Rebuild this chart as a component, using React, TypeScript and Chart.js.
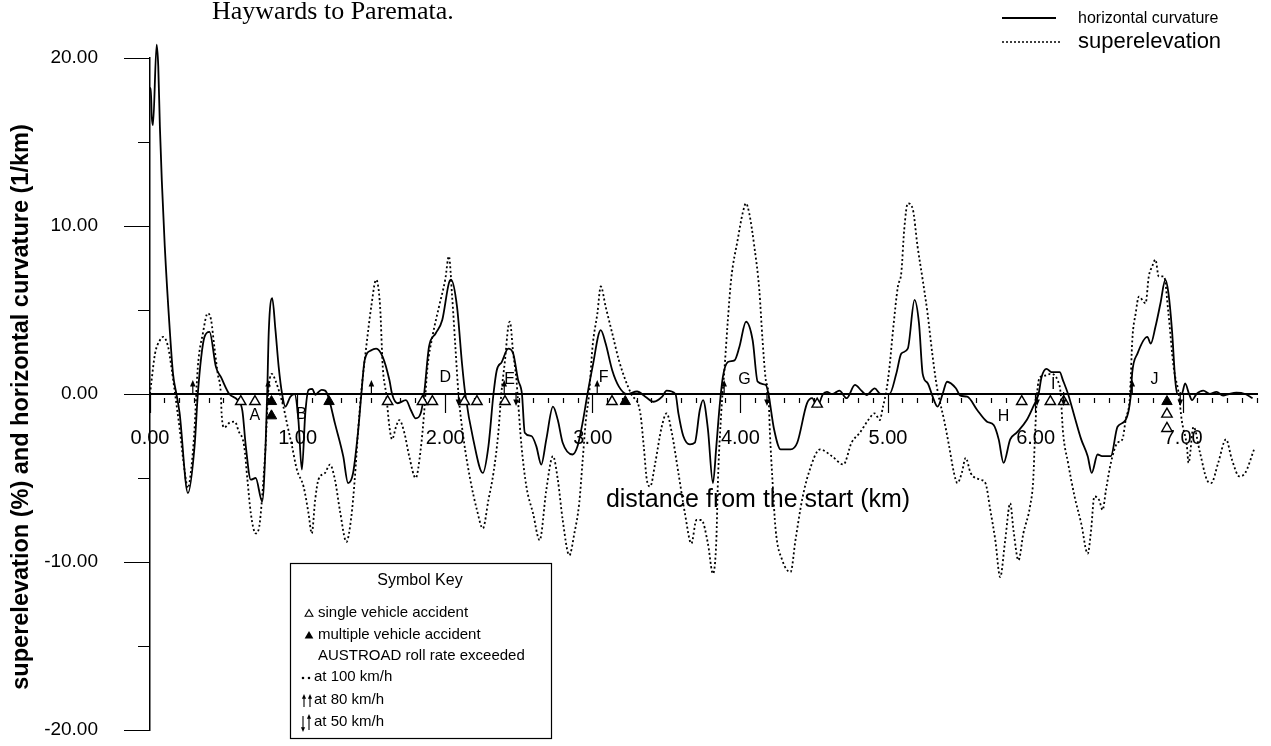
import React, { useEffect, useRef } from 'react';
import { Chart, registerables } from 'chart.js';

Chart.register(...registerables);

// Horizontal curvature (1/km) along the route, distance in km
const curvKm = [
  0.0, 0.005, 0.012, 0.02, 0.045, 0.056, 0.067, 0.08, 0.1, 0.134, 0.156, 0.179, 0.2, 0.257, 0.302, 0.324,
  0.347, 0.369, 0.403, 0.447, 0.481, 0.537, 0.593, 0.626, 0.649, 0.683, 0.716, 0.76, 0.783, 0.794, 0.805,
  0.828, 0.85, 0.872, 0.895, 0.917, 0.951, 0.98, 1.005, 1.029, 1.052, 1.074, 1.1, 1.12, 1.14, 1.163,
  1.186, 1.208, 1.253, 1.309, 1.342, 1.376, 1.409, 1.432, 1.454, 1.499, 1.532, 1.577, 1.622, 1.64, 1.678,
  1.734, 1.767, 1.8, 1.834, 1.857, 1.89, 1.935, 1.98, 2.025, 2.04, 2.08, 2.114, 2.136, 2.19, 2.255, 2.293,
  2.327, 2.349, 2.383, 2.427, 2.461, 2.494, 2.52, 2.539, 2.584, 2.617, 2.651, 2.685, 2.73, 2.763, 2.796,
  2.863, 2.897, 2.93, 2.964, 2.998, 3.054, 3.087, 3.132, 3.177, 3.23, 3.3, 3.356, 3.412, 3.47, 3.5, 3.56,
  3.58, 3.613, 3.658, 3.691, 3.725, 3.747, 3.78, 3.814, 3.837, 3.859, 3.881, 3.915, 3.96, 3.993, 4.038,
  4.083, 4.117, 4.172, 4.19, 4.228, 4.273, 4.34, 4.385, 4.451, 4.486, 4.52, 4.56, 4.586, 4.62, 4.653,
  4.67, 4.72, 4.776, 4.82, 4.855, 4.91, 4.95, 5.01, 5.056, 5.09, 5.134, 5.18, 5.21, 5.235, 5.27, 5.3,
  5.336, 5.37, 5.4, 5.46, 5.49, 5.537, 5.604, 5.671, 5.716, 5.75, 5.783, 5.828, 5.872, 5.94, 5.984, 6.02,
  6.04, 6.074, 6.107, 6.163, 6.185, 6.22, 6.264, 6.309, 6.353, 6.38, 6.42, 6.45, 6.51, 6.555, 6.61, 6.644,
  6.655, 6.69, 6.757, 6.78, 6.812, 6.846, 6.879, 6.9, 6.924, 6.946, 6.96, 6.99, 7.013, 7.04, 7.06, 7.09,
  7.136, 7.18, 7.226, 7.27, 7.31, 7.36, 7.42, 7.47,
];
const curvVal = [
  18.2, 18.2, 16.5, 16.0, 20.8, 19.5, 15.9, 12.7, 8.8, 3.8, 1.2, 0, -1.1, -5.9, -3.1, 0,
  2.2, 3.4, 3.7, 1.6, 1.0, 0, -0.36, -1.0, -3.1, -5.1, -5.0, -6.4, -3.1, 0, 3.8,
  5.7, 3.8, 1.6, 0, -0.75, -0.16, 0, -1.5, -4.5, -1.15, 0.24, 0.3, -0.05, 0.1, 0.24,
  0.2, -0.16, -1.75, -3.7, -5.3, -4.7, -2.3, 0, 2.0, 2.6, 2.7, 2.2, 0.83, 0, -0.55,
  -0.36, -0.95, -1.45, -1.15, 0, 2.8, 3.6, 4.4, 6.6, 6.8, 5.2, 1.8, 0, -2.7, -4.7, -3.1,
  0, 1.4, 1.9, 2.7, 2.4, 0.83, 0, -2.3, -2.5, -3.1, -4.2, -2.7, -0.75, -1.55, -2.9,
  -3.6, -3.1, -1.75, 0, 1.6, 3.8, 3.0, 1.4, 0.44, 0, 0.15, -0.16, -0.46, -0.16, 0.2, 0,
  -1.15, -2.5, -3.0, -2.9, -0.95, -0.36, -2.1, -5.3, -3.1, -0.75, 1.0, 1.9, 2.0, 2.8, 4.3,
  3.2, 0.73, 0.54, 0, -2.1, -3.3, -3.3, -2.9, -0.56, -0.25, -0.75, 0, 0.13, 0, 0.13,
  0.2, -0.25, 0.54, 0.2, -0.06, 0.34, 0, 0, 1.2, 2.4, 2.7, 5.6, 4.2, 1.2, 0.63, -0.1,
  -0.75, 0, 0.73, 0.34, -0.1, -0.16, -0.95, -1.65, -1.85, -2.7, -4.1, -2.7, -2.3, -1.55, -0.75, 0,
  1.0, 1.5, 1.3, 1.3, 0.83, 0, -1.35, -2.7, -3.7, -4.7, -3.6, -3.7, -3.7, -1.95, -1.55, -0.16,
  1.3, 2.4, 3.4, 3.0, 4.0, 5.4, 6.8, 6.0, 3.8, 0.83, 0, 0, 0.63, 0, -0.36, 0,
  0.2, 0, 0.13, -0.1, 0, 0.08, 0, -0.25,
];

// Superelevation (%) along the route, distance in km
const superKm = [
  0.0, 0.011, 0.034, 0.067, 0.089, 0.123, 0.145, 0.17, 0.2, 0.235, 0.257, 0.28, 0.3, 0.324, 0.358, 0.391,
  0.414, 0.436, 0.459, 0.48, 0.485, 0.503, 0.54, 0.575, 0.6, 0.638, 0.66, 0.683, 0.716, 0.74, 0.76, 0.783,
  0.8, 0.825, 0.85, 0.88, 0.905, 0.928, 0.962, 0.995, 1.04, 1.074, 1.096, 1.119, 1.141, 1.186, 1.219,
  1.253, 1.286, 1.331, 1.364, 1.387, 1.409, 1.43, 1.465, 1.499, 1.532, 1.559, 1.577, 1.6, 1.622, 1.64,
  1.667, 1.689, 1.723, 1.756, 1.8, 1.834, 1.857, 1.88, 1.913, 1.958, 2.0, 2.025, 2.047, 2.069, 2.09,
  2.125, 2.17, 2.215, 2.255, 2.293, 2.327, 2.36, 2.38, 2.405, 2.427, 2.438, 2.461, 2.483, 2.49, 2.517,
  2.55, 2.595, 2.64, 2.685, 2.73, 2.763, 2.796, 2.841, 2.875, 2.908, 2.93, 2.953, 2.975, 2.998, 3.031,
  3.054, 3.087, 3.132, 3.177, 3.221, 3.26, 3.322, 3.345, 3.366, 3.389, 3.423, 3.467, 3.5, 3.535, 3.58,
  3.624, 3.668, 3.702, 3.736, 3.78, 3.814, 3.837, 3.848, 3.87, 3.893, 3.915, 3.937, 3.982, 4.015, 4.038,
  4.06, 4.094, 4.128, 4.15, 4.172, 4.19, 4.2, 4.217, 4.239, 4.284, 4.34, 4.373, 4.418, 4.463, 4.54, 4.62,
  4.698, 4.753, 4.81, 4.866, 4.91, 4.944, 4.966, 4.99, 5.01, 5.034, 5.067, 5.09, 5.11, 5.134, 5.168, 5.2,
  5.235, 5.268, 5.3, 5.324, 5.34, 5.38, 5.414, 5.447, 5.47, 5.5, 5.526, 5.56, 5.626, 5.66, 5.693, 5.727,
  5.76, 5.794, 5.828, 5.85, 5.884, 5.917, 5.962, 5.984, 5.995, 6.01, 6.03, 6.07, 6.1, 6.15, 6.17, 6.185,
  6.22, 6.264, 6.309, 6.353, 6.376, 6.398, 6.43, 6.454, 6.477, 6.51, 6.555, 6.588, 6.61, 6.64, 6.655,
  6.678, 6.7, 6.745, 6.767, 6.79, 6.812, 6.834, 6.87, 6.9, 6.935, 6.97, 6.99, 7.025, 7.036, 7.07, 7.114,
  7.16, 7.19, 7.237, 7.29, 7.33, 7.38, 7.42, 7.48,
];
const superVal = [
  0, 0.83, 2.4, 3.2, 3.4, 2.8, 1.6, 0, -2.0, -4.6, -5.6, -4.4, -2.3, 1.6, 3.6, 4.8,
  4.4, 2.8, 1.2, 0, -1.15, -2.0, -1.7, -1.65, -2.2, -3.1, -5.1, -7.1, -8.3, -7.9, -6.1, -3.1,
  0, 1.2, 0.8, 0, -0.8, -1.75, -3.1, -4.5, -5.5, -7.1, -8.3, -6.3, -5.1, -4.7, -4.2,
  -5.1, -6.9, -8.8, -7.3, -5.1, -2.3, 0, 2.8, 5.2, 6.8, 5.2, 1.6, 0, -1.95, -2.7,
  -1.95, -1.55, -2.3, -3.7, -5.0, -3.3, -1.15, 1.6, 3.4, 5.2, 6.8, 8.2, 5.8, 2.8, 0,
  -2.7, -5.1, -6.9, -8.0, -6.3, -4.7, -2.3, 0, 2.0, 4.0, 4.3, 2.4, 0.83, 0, -3.1,
  -5.5, -7.1, -8.7, -5.7, -3.7, -5.1, -7.5, -9.6, -8.3, -6.5, -4.1, -1.55, 0, 2.8, 4.8,
  6.4, 5.2, 3.6, 2.0, 0.83, 0, -1.15, -3.1, -5.1, -5.5, -4.1, -1.95, -1.15, -2.3, -4.7,
  -7.1, -8.9, -7.5, -7.5, -8.9, -10.7, -8.7, -5.1, -1.15, 1.6, 4.4, 6.8, 9.2, 10.75, 11.35,
  10.75, 8.8, 6.2, 3.2, 0.83, 0, -2.3, -5.1, -8.1, -9.9, -10.6, -8.7, -6.3, -4.7, -3.3, -3.7,
  -4.2, -2.9, -2.3, -1.55, -1.15, -1.55, -0.75, 0.24, 1.6, 3.8, 6.4, 7.2, 9.8, 11.35, 11.0, 8.8,
  6.8, 4.8, 2.4, 0.83, 0, -1.55, -3.1, -4.7, -5.3, -4.7, -3.8, -4.7, -5.1, -5.3, -6.9, -8.7,
  -10.9, -8.7, -6.5, -8.1, -9.9, -8.3, -6.7, -5.1, -2.7, 0, 1.0, 1.1, 1.2, 0.8, 0, -2.2,
  -4.1, -6.1, -7.7, -9.5, -8.1, -6.1, -6.3, -6.9, -5.7, -4.1, -2.9, -2.7, -1.55, 0, 3.2,
  4.8, 5.8, 5.4, 7.0, 7.6, 8.0, 7.0, 7.0, 4.8, 1.6, 0, -1.55, -3.1, -4.1, -1.95, -3.5,
  -5.1, -5.3, -4.1, -2.7, -3.9, -4.9, -4.7, -3.3,
];

// Accident sites: single-vehicle (open) and multiple-vehicle (filled) markers
const singleKm = [0.615, 0.711, 1.61, 1.846, 1.913, 2.13, 2.215, 2.405, 3.13, 4.52, 5.906, 6.1, 6.19, 6.89, 6.89];
const singleLevel = [-0.45, -0.45, -0.45, -0.45, -0.45, -0.45, -0.45, -0.45, -0.45, -0.6, -0.45, -0.45, -0.45, -1.2, -2.05];
const multiKm = [0.823, 0.823, 1.213, 3.22, 6.89];
const multiLevel = [-0.45, -1.3, -0.45, -0.45, -0.45];

// Points where the AUSTROAD roll rate is exceeded
const rollUpKm = [0.29, 0.8, 1.5, 2.4, 3.03, 3.89, 6.655];
const rollDownKm = [2.09, 2.48, 4.18, 6.01, 6.19, 6.98];

// Site letters
const siteLetters = ['A', 'B', 'D', 'E', 'F', 'G', 'H', 'I', 'J'];
const siteKm = [0.711, 1.027, 2.0, 2.436, 3.074, 4.027, 5.783, 6.12, 6.805];
const siteLevel = [-1.3, -1.25, 0.95, 0.83, 0.95, 0.83, -1.37, 0.54, 0.83];

const TITLE = 'Haywards to Paremata.';
const X_TITLE = 'distance from the start (km)';
const Y_TITLE = 'superelevation (%) and horizontal curvature (1/km)';
const SANS = '"Liberation Sans", Arial, sans-serif';

const isMajor = (v: number) => Math.abs(v - Math.round(v)) < 1e-6;

function arrow(ctx: CanvasRenderingContext2D, x: number, yStart: number, len: number, dir: number, head = 4) {
  const yEnd = yStart + dir * len;
  ctx.beginPath();
  ctx.moveTo(x, yStart);
  ctx.lineTo(x, yEnd - dir * head);
  ctx.stroke();
  ctx.beginPath();
  ctx.moveTo(x, yEnd);
  ctx.lineTo(x - head * 0.7, yEnd - dir * head * 1.6);
  ctx.lineTo(x + head * 0.7, yEnd - dir * head * 1.6);
  ctx.closePath();
  ctx.fill();
}

function triangle(ctx: CanvasRenderingContext2D, x: number, y: number, r: number, filled: boolean) {
  ctx.beginPath();
  ctx.moveTo(x, y - r);
  ctx.lineTo(x + r * 0.87, y + r * 0.5);
  ctx.lineTo(x - r * 0.87, y + r * 0.5);
  ctx.closePath();
  if (filled) ctx.fill();
  else ctx.stroke();
}

const annotate = {
  id: 'annotate',
  afterDraw(chart: any) {
    const { ctx, scales } = chart;
    const xs = scales.x;
    const ys = scales.y;
    const y0 = ys.getPixelForValue(0);
    ctx.save();
    ctx.fillStyle = '#000';
    ctx.strokeStyle = '#000';

    // title
    ctx.font = '26px "Liberation Serif", serif';
    ctx.textAlign = 'left';
    ctx.textBaseline = 'alphabetic';
    ctx.fillText(TITLE, 212, 19);

    // axis titles
    ctx.save();
    ctx.translate(22, 407);
    ctx.rotate(-Math.PI / 2);
    ctx.font = 'bold 23.5px ' + SANS;
    ctx.textAlign = 'center';
    ctx.textBaseline = 'middle';
    ctx.fillText(Y_TITLE, 0, 0);
    ctx.restore();

    ctx.font = '25px ' + SANS;
    ctx.textAlign = 'center';
    ctx.textBaseline = 'middle';
    ctx.fillText(X_TITLE, 758, 500);

    // legend
    ctx.lineWidth = 1.8;
    ctx.beginPath();
    ctx.moveTo(1002, 18);
    ctx.lineTo(1056, 18);
    ctx.stroke();
    ctx.setLineDash([2, 2]);
    ctx.lineWidth = 1.5;
    ctx.beginPath();
    ctx.moveTo(1002, 42);
    ctx.lineTo(1062, 42);
    ctx.stroke();
    ctx.setLineDash([]);
    ctx.textAlign = 'left';
    ctx.font = '16px ' + SANS;
    ctx.fillText('horizontal curvature', 1078, 19);
    ctx.font = '22px ' + SANS;
    ctx.fillText('superelevation', 1078, 42);

    // site letters
    ctx.font = '16px ' + SANS;
    ctx.textAlign = 'center';
    siteLetters.forEach((s, i) => {
      ctx.fillText(s, xs.getPixelForValue(siteKm[i]), ys.getPixelForValue(siteLevel[i]));
    });

    // roll rate arrows
    ctx.lineWidth = 1.2;
    rollUpKm.forEach((k) => arrow(ctx, xs.getPixelForValue(k), y0 - 1, 13, -1));
    rollDownKm.forEach((k) => arrow(ctx, xs.getPixelForValue(k), y0 - 2, 14, 1));

    // symbol key
    const bx = 290, by = 563, bw = 261, bh = 175;
    ctx.fillStyle = '#fff';
    ctx.fillRect(bx, by, bw, bh);
    ctx.lineWidth = 1.2;
    ctx.strokeRect(bx + 0.5, by + 0.5, bw, bh);
    ctx.fillStyle = '#000';
    ctx.font = '16px ' + SANS;
    ctx.textAlign = 'center';
    ctx.fillText('Symbol Key', 420, 581);
    ctx.font = '15px ' + SANS;
    ctx.textAlign = 'left';
    ctx.fillText('single vehicle accident', 318, 613);
    ctx.fillText('multiple vehicle accident', 318, 635);
    ctx.fillText('AUSTROAD roll rate exceeded', 318, 656);
    ctx.fillText('at 100 km/h', 314, 677);
    ctx.fillText('at 80 km/h', 314, 700);
    ctx.fillText('at 50 km/h', 314, 722);
    ctx.lineWidth = 1.1;
    triangle(ctx, 309, 614, 4.5, false);
    triangle(ctx, 309, 636, 5, true);
    ctx.beginPath();
    ctx.arc(303, 678, 1.3, 0, Math.PI * 2);
    ctx.arc(309, 678, 1.3, 0, Math.PI * 2);
    ctx.fill();
    arrow(ctx, 304, 707, 13, -1, 3);
    arrow(ctx, 310, 707, 13, -1, 3);
    arrow(ctx, 303, 716, 16, 1, 3);
    arrow(ctx, 309, 730, 16, -1, 3);

    ctx.restore();
  },
};

export default function App() {
  const canvasRef = useRef<HTMLCanvasElement | null>(null);

  useEffect(() => {
    document.body.style.margin = '0';
    const canvas = canvasRef.current;
    if (!canvas) return;

    const curv = curvKm.map((k, i) => ({ x: k, y: curvVal[i] }));
    const superel = superKm.map((k, i) => ({ x: k, y: superVal[i] }));
    const single = singleKm.map((k, i) => ({ x: k, y: singleLevel[i] }));
    const multi = multiKm.map((k, i) => ({ x: k, y: multiLevel[i] }));

    const chart = new Chart(canvas, {
      type: 'line',
      data: {
        datasets: [
          {
            type: 'scatter',
            label: 'multiple vehicle accident',
            data: multi,
            pointStyle: 'triangle',
            pointRadius: 6,
            backgroundColor: '#000',
            borderColor: '#000',
            borderWidth: 1,
          } as any,
          {
            type: 'scatter',
            label: 'single vehicle accident',
            data: single,
            pointStyle: 'triangle',
            pointRadius: 6,
            backgroundColor: '#fff',
            borderColor: '#000',
            borderWidth: 1.4,
          } as any,
          {
            label: 'horizontal curvature',
            data: curv,
            borderColor: '#000',
            borderWidth: 1.8,
            pointRadius: 0,
            cubicInterpolationMode: 'monotone',
            clip: false,
          } as any,
          {
            label: 'superelevation',
            data: superel,
            borderColor: '#000',
            borderWidth: 1.8,
            borderDash: [2, 2.5],
            pointRadius: 0,
            cubicInterpolationMode: 'monotone',
            clip: false,
          } as any,
        ],
      },
      options: {
        responsive: false,
        maintainAspectRatio: false,
        devicePixelRatio: 1,
        animation: false,
        events: [],
        layout: { padding: { top: 58, right: 3.5, bottom: 16, left: 0 } },
        plugins: {
          legend: { display: false },
          tooltip: { enabled: false },
          title: { display: false },
        },
        scales: {
          x: {
            type: 'linear',
            min: 0,
            max: 7.5,
            position: { y: 0 } as any,
            afterFit: (s: any) => {
              s.height = 0;
            },
            ticks: {
              stepSize: 0.1,
              autoSkip: false,
              maxRotation: 0,
              minRotation: 0,
              padding: 14,
              color: '#000',
              font: { family: SANS, size: 20 },
              callback: (v: any) => (isMajor(Number(v)) ? Number(v).toFixed(2) : ''),
            },
            grid: {
              display: true,
              drawOnChartArea: false,
              drawTicks: true,
              tickLength: 18,
              tickColor: '#000',
              tickWidth: 1.2,
              tickBorderDash: (c: any) => (c.tick && !isMajor(c.tick.value) ? [0, 3, 5, 100] : []),
            } as any,
            border: { display: true, color: '#000', width: 2 },
          },
          y: {
            type: 'linear',
            min: -20,
            max: 20,
            position: 'left',
            afterFit: (s: any) => {
              s.width = 150;
            },
            ticks: {
              stepSize: 5,
              autoSkip: false,
              padding: 0,
              color: '#000',
              font: { family: SANS, size: 19 },
              callback: (v: any) => (Number(v) % 10 === 0 ? Number(v).toFixed(2) : ''),
            },
            grid: {
              display: true,
              drawOnChartArea: false,
              drawTicks: true,
              // long tick slot; the visible mark is the part nearest the axis
              tickLength: 52,
              tickColor: '#000',
              tickWidth: 1.2,
              tickBorderDash: (c: any) =>
                c.tick && Number(c.tick.value) % 10 !== 0 ? [0, 40, 12, 100] : [0, 26, 26, 100],
            } as any,
            border: { display: true, color: '#000', width: 1.5 },
          },
        },
      },
      plugins: [annotate],
    });

    return () => chart.destroy();
  }, []);

  return (
    <div style={{ width: 1271, height: 746, background: '#fff' }}>
      <canvas ref={canvasRef} width={1271} height={746} style={{ display: 'block' }} />
    </div>
  );
}
